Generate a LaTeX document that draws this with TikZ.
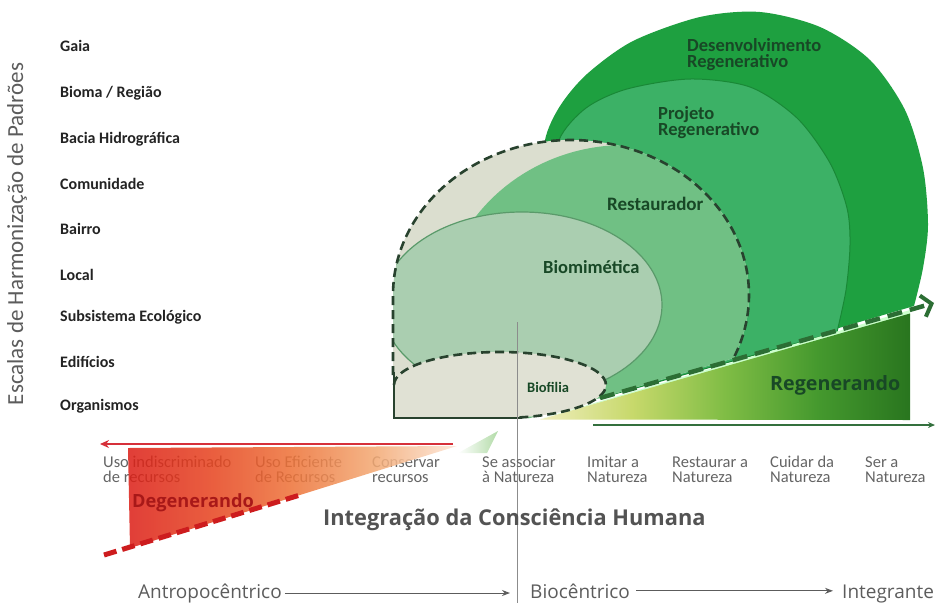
\documentclass[tikz,border=0pt]{standalone}
\usepackage{fontspec}
\setmainfont{Carlito}
\newfontfamily\openface{Open Sans}
\usetikzlibrary{arrows.meta}

\definecolor{gOuter}{RGB}{30,160,64}
\definecolor{gProj}{RGB}{60,177,102}
\definecolor{gRest}{RGB}{112,192,132}
\definecolor{gBiom}{RGB}{170,206,176}
\definecolor{paleZone}{RGB}{219,222,207}
\definecolor{paleCore}{RGB}{224,225,212}
\definecolor{edgeInk}{RGB}{40,66,46}
\definecolor{diagInk}{RGB}{44,110,52}
\definecolor{baseGreen}{RGB}{52,112,62}
\definecolor{zoneInk}{RGB}{24,72,38}
\definecolor{scaleInk}{RGB}{35,35,35}
\definecolor{rowInk}{RGB}{100,100,100}
\definecolor{axisInk}{RGB}{92,92,92}
\definecolor{degInk}{RGB}{168,24,24}
\definecolor{redLine}{RGB}{214,48,58}
\definecolor{redDash}{RGB}{205,28,30}

\pgfdeclarehorizontalshading{regenfade}{100bp}{rgb(0bp)=(0.94,0.93,0.74); rgb(25bp)=(0.94,0.93,0.74); rgb(37.5bp)=(0.78,0.85,0.42); rgb(50bp)=(0.50,0.74,0.27); rgb(62.5bp)=(0.27,0.60,0.18); rgb(75bp)=(0.16,0.46,0.12); rgb(100bp)=(0.16,0.46,0.12)}
\pgfdeclarehorizontalshading{degenfade}{100bp}{rgb(0bp)=(0.86,0.12,0.09); rgb(25bp)=(0.86,0.12,0.09); rgb(37.5bp)=(0.90,0.26,0.12); rgb(50bp)=(0.93,0.45,0.22); rgb(62.5bp)=(0.95,0.66,0.45); rgb(75bp)=(0.99,0.90,0.84); rgb(100bp)=(0.99,0.90,0.84)}
\pgfdeclarehorizontalshading{tipfade}{100bp}{rgb(0bp)=(1,1,1); rgb(25bp)=(1,1,1); rgb(75bp)=(0.70,0.86,0.66); rgb(100bp)=(0.70,0.86,0.66)}

\tikzset{
  scalelab/.style={anchor=base west, inner sep=0pt, text=scaleInk,
    font=\fontsize{16}{16}\selectfont\bfseries},
  rowlab/.style={anchor=base west, inner sep=0pt, align=left, text=rowInk,
    font=\fontsize{16.5}{15.5}\selectfont},
  zonelab/.style={anchor=base west, inner sep=0pt, align=left, text=zoneInk,
    font=\fontsize{18.5}{16.5}\selectfont\bfseries},
  axislab/.style={anchor=base west, inner sep=0pt, text=axisInk,
    font=\openface\fontsize{19}{19}\selectfont},
  outline/.style={draw=edgeInk, line width=2.6pt, dash pattern=on 9pt off 5pt},
  solidline/.style={draw=edgeInk, line width=2.6pt},
  diagline/.style={draw=diagInk, line width=4.5pt, dash pattern=on 15pt off 8pt,
    -{Straight Barb[length=9pt,width=22pt,line width=4pt]}},
  axisarrow/.style={draw=axisInk, line width=1pt, -{Stealth[length=8pt,width=6pt]}},
}

\begin{document}
\begin{tikzpicture}[x=1pt,y=-1pt]
\useasboundingbox (0,0) rectangle (936,603);

% ---------- nested zones ----------
\fill[gOuter] plot[smooth] coordinates {(546,300) (543,190) (545,140) (560,106) (587,74) (633,41) (700,17) (760,12) (820,27) (870,60) (905,110) (923,168) (928,225) (923,268) (914,306)} -- (600,398) -- cycle;

\fill[gProj, draw=gOuter!85!black, line width=1pt] plot[smooth] coordinates {(556,300) (553,190) (559,140) (586,108) (627,89) (690,79) (750,87) (797,118) (830,163) (847,208) (850,245) (846,290) (837,332)} -- (600,398) -- cycle;

\fill[paleZone] (393,418) -- (393,295) arc[start angle=180,end angle=384,x radius=178,y radius=155] -- (600,398) -- (530,418) -- cycle;

\begin{scope}
  \clip (393,418) -- (393,295) arc[start angle=180,end angle=384,x radius=178,y radius=155] -- (600,398) -- (530,418) -- cycle;
  \fill[gRest] (625,320) ellipse[x radius=185,y radius=175];
  \fill[gBiom, draw=gRest!80!black, line width=1.2pt] (522,305) ellipse[x radius=140,y radius=93];
\end{scope}

\fill[paleCore] (394,418) -- (394,385) arc[start angle=180,end angle=450,x radius=106,y radius=33] -- cycle;

% ---------- regenerating wedge ----------
\fill[green!20!white] (540,419) -- (910,310) -- (910,316) -- cycle;
\shade[shading=regenfade] (540,419.5) -- (910,313.5) -- (910,420) -- cycle;

% ---------- outlines ----------
\draw[outline] (393,375) -- (393,295) arc[start angle=180,end angle=384,x radius=178,y radius=155];
\draw[outline] (394,385) arc[start angle=180,end angle=442,x radius=106,y radius=33];
\draw[solidline] (394,372) -- (394,418) -- (522,418);

\coordinate (diagStart) at (600,398);
\coordinate (diagTip) at (934,303);
\draw[diagline] (diagStart) -- (diagTip);

\draw[black!45, line width=0.9pt] (517,322) -- (517,603);

\coordinate (baseStart) at (593,425);
\coordinate (baseTip) at (935,425);
\draw[baseGreen, line width=1.6pt, -{Stealth[length=7pt,width=6pt]}] (baseStart) -- (baseTip);

% ---------- zone labels (base = last line) ----------
\node[zonelab] (zDes) at (687,67.5) {Desenvolvimento\\Regenerativo};
\node[zonelab] (zProj) at (658,135.5) {Projeto\\Regenerativo};
\node[zonelab, font=\fontsize{19}{19}\selectfont\bfseries] (zRest) at (607,210) {Restaurador};
\node[zonelab] (zBiom) at (543,273) {Biomimética};
\node[zonelab, font=\fontsize{14.5}{14.5}\selectfont\bfseries] (zBiof) at (527,392) {Biofilia};
\node[anchor=base west, inner sep=0pt, text=zoneInk, font=\openface\bfseries\fontsize{19.7}{20}\selectfont] (zRegen) at (770,390) {Regenerando};

% ---------- scale of patterns ----------
\node[rotate=90, inner sep=0pt, text=axisInk, font=\fontsize{23}{23}\selectfont] (vScale) at (17,234) {Escalas de Harmonização de Padrões};
\node[scalelab] (sGaia) at (60,51) {Gaia};
\node[scalelab] (sBioma) at (60,97) {Bioma / Região};
\node[scalelab] (sBacia) at (60,143) {Bacia Hidrográfica};
\node[scalelab] (sComun) at (60,189) {Comunidade};
\node[scalelab] (sBairro) at (60,234) {Bairro};
\node[scalelab] (sLocal) at (60,280) {Local};
\node[scalelab] (sSub) at (60,321) {Subsistema Ecológico};
\node[scalelab] (sEdif) at (60,367) {Edifícios};
\node[scalelab] (sOrg) at (60,410) {Organismos};

% ---------- stages (base = last line) ----------
\node[rowlab] (rUso) at (103,482.5) {Uso indiscriminado\\de recursos};
\node[rowlab] (rEfic) at (255,482.5) {Uso Eficiente\\de Recursos};
\node[rowlab] (rCons) at (372,482.5) {Conservar\\recursos};
\node[rowlab] (rAssoc) at (482,482.5) {Se associar\\à Natureza};
\node[rowlab] (rImit) at (587,482.5) {Imitar a\\Natureza};
\node[rowlab] (rRest) at (672,482.5) {Restaurar a\\Natureza};
\node[rowlab] (rCuid) at (770,482.5) {Cuidar da\\Natureza};
\node[rowlab] (rSer) at (865,482.5) {Ser a\\Natureza};

% ---------- degenerating wedge ----------
\shade[shading=degenfade, opacity=0.86] (128,448) -- (457,446) -- (130,548) -- cycle;
\shade[shading=tipfade] (458,453) -- (498,431) -- (487,453) -- cycle;
\draw[redDash, line width=5pt, dash pattern=on 13pt off 6pt] (104,555) -- (300,495);
\coordinate (redStart) at (453,444);
\coordinate (redTip) at (100,444);
\draw[redLine, line width=2.2pt, -{Stealth[length=9pt,width=8pt]}] (redStart) -- (redTip);
\node[anchor=base west, inner sep=0pt, text=degInk, font=\openface\bfseries\fontsize{18.2}{18}\selectfont] (degen) at (132,507) {Degenerando};

% ---------- consciousness axis ----------
\node[anchor=base west, inner sep=0pt, text=axisInk!90!black, font=\openface\bfseries\fontsize{21.8}{22}\selectfont] (title) at (323,525) {Integração da Consciência Humana};

\node[axislab] (antro) at (138,598) {Antropocêntrico};
\node[axislab] (bioc) at (530,598) {Biocêntrico};
\node[axislab] (integ) at (842,598) {Integrante};
\coordinate (antroTip) at (510,593);
\coordinate (biocTip) at (833,593);
\draw[axisarrow, shorten <=3pt] (antro.east) -- (antro.east -| antroTip);
\draw[axisarrow, shorten <=6pt] (bioc.east) -- (bioc.east -| biocTip);
\end{tikzpicture}
\end{document}
